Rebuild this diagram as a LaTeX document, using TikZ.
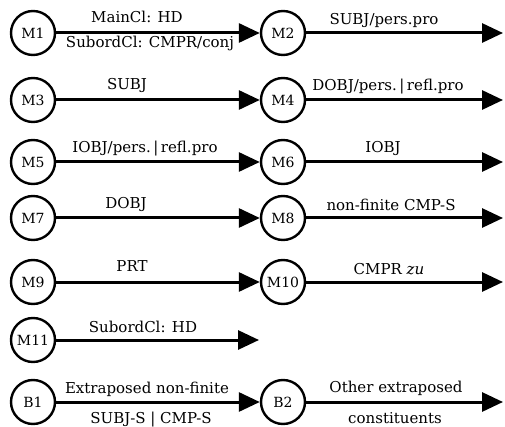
\documentclass[tikz,border=0pt]{standalone}
\usepackage{fontspec}
\setmainfont{DejaVu Serif}
\usetikzlibrary{arrows.meta}
\begin{document}
\begin{tikzpicture}[x=1pt,y=-1pt,
  st/.style={circle,draw,line width=2.4pt,minimum size=44pt,inner sep=0pt,font=\fontsize{14}{16}\selectfont},
  tr/.style={line width=3pt,-{Triangle[length=21pt,width=19pt]}},
  lab/.style={font=\fontsize{15}{17}\selectfont,inner sep=0pt,anchor=base},
]
\useasboundingbox (0,0) rectangle (505,427);
% states
\node[st] (M1) at (33,33) {M1};
\node[st] (M2) at (283,33) {M2};
\node[st] (M3) at (33,100) {M3};
\node[st] (M4) at (283,100) {M4};
\node[st] (M5) at (33,162) {M5};
\node[st] (M6) at (283,162) {M6};
\node[st] (M7) at (33,218) {M7};
\node[st] (M8) at (283,218) {M8};
\node[st] (M9) at (33,282) {M9};
\node[st] (M10) at (283,282) {M10};
\node[st] (M11) at (33,340) {M11};
\node[st] (B1) at (33,402) {B1};
\node[st] (B2) at (283,402) {B2};
% free ends
\coordinate (e1) at (503,33);
\coordinate (e2) at (503,100);
\coordinate (e3) at (503,162);
\coordinate (e4) at (503,218);
\coordinate (e5) at (503,282);
\coordinate (e6) at (259,340);
\coordinate (e7) at (503,402);
% arrows
\draw[tr] (M1) -- (M2);
\draw[tr] (M2) -- (e1);
\draw[tr] (M3) -- (M4);
\draw[tr] (M4) -- (e2);
\draw[tr] (M5) -- (M6);
\draw[tr] (M6) -- (e3);
\draw[tr] (M7) -- (M8);
\draw[tr] (M8) -- (e4);
\draw[tr] (M9) -- (M10);
\draw[tr] (M10) -- (e5);
\draw[tr] (M11) -- (e6);
\draw[tr] (B1) -- (B2);
\draw[tr] (B2) -- (e7);
% labels
\node[lab] (t1) at (137,23) {MainCl: HD};
\node[lab] (b1) at (150,48) {SubordCl: CMPR/conj};
\node[lab] (t2) at (384,25) {SUBJ/pers.pro};
\node[lab] (t3) at (127,90) {SUBJ};
\node[lab] (t4) at (388,91) {DOBJ/pers.\,|\,refl.pro};
\node[lab] (t5) at (145,153) {IOBJ/pers.\,|\,refl.pro};
\node[lab] (t6) at (383,153) {IOBJ};
\node[lab] (t7) at (126,209) {DOBJ};
\node[lab] (t8) at (391,211) {non-finite CMP-S};
\node[lab] (t9) at (132,271) {PRT};
\node[lab] (t10) at (389,274) {CMPR \textit{zu}};
\node[lab] (t11) at (143,332) {SubordCl: HD};
\node[lab] (t12) at (147,393) {Extraposed non-finite};
\node[lab] (b12) at (151,423) {SUBJ-S | CMP-S};
\node[lab] (t13) at (396,392) {Other extraposed};
\node[lab] (b13) at (395,423) {constituents};
\end{tikzpicture}
\end{document}
